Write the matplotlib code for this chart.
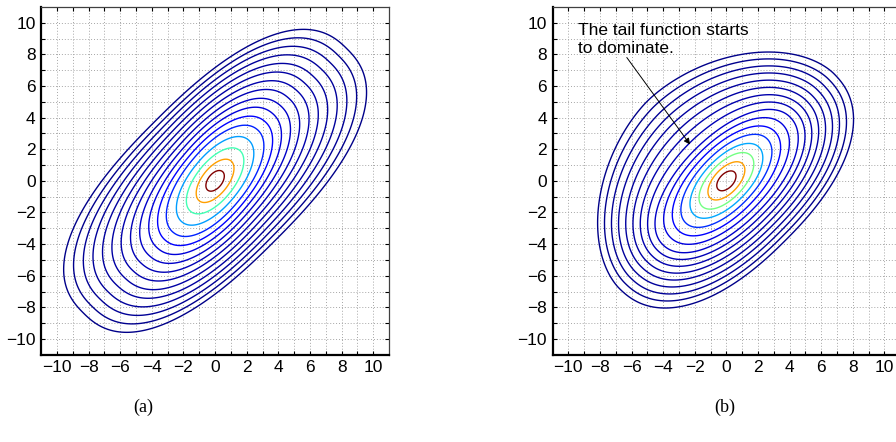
import numpy as np
import matplotlib
matplotlib.use("Agg")
import matplotlib.pyplot as plt
from matplotlib import cm

# ---------------- data ----------------
tick_values = list(range(-10, 11, 2))
grid_values = list(range(-10, 11))
contour_levels = list(range(1, 17))          # contour index, inner -> outer

# shape of the contour family vs contour index
# a: semi-axis along main diagonal; b_up/b_dn and p_up/p_dn: semi-axis and
# exponent on the upper-left / lower-right side; theta: tilt in degrees
left_R = [0, 1, 5, 10, 16]
left_a = [0.0, 0.75, 4.2, 7.7, 11.8]
left_b_up = [0.0, 0.45, 1.95, 3.5, 5.35]
left_b_dn = [0.0, 0.45, 1.95, 3.5, 5.35]
left_p_up = [2.0, 2.0, 2.1, 2.25, 2.45]
left_p_dn = [2.0, 2.0, 2.1, 2.25, 2.45]
left_theta = [52, 52, 51, 48, 45]

right_R = [0, 1, 5, 8, 16]
right_a = [0.0, 0.75, 3.7, 5.7, 9.6]
right_b_up = [0.0, 0.45, 1.75, 2.8, 7.1]
right_b_dn = [0.0, 0.45, 1.75, 2.8, 5.3]
right_p_up = [2.0, 2.0, 2.05, 2.05, 1.8]
right_p_dn = [2.0, 2.0, 2.05, 2.1, 2.3]
right_theta = [47, 47, 46, 45, 45]

# jet colour position of each contour, inner -> outer
left_cvals = [1.0, 0.74, 0.43, 0.28, 0.16, 0.11, 0.08, 0.065, 0.05, 0.04,
              0.035, 0.03, 0.025, 0.02, 0.015, 0.01]
right_cvals = [1.0, 0.74, 0.49, 0.29, 0.17, 0.12, 0.085, 0.065, 0.05, 0.04,
               0.035, 0.03, 0.025, 0.02, 0.015, 0.01]

annot_text = "The tail function starts\nto dominate."
panel_labels = ["(a)", "(b)"]

# ---------------- helpers ----------------
def interp_ext(r, knots, vals):
    knots = np.asarray(knots, float)
    vals = np.asarray(vals, float)
    out = np.interp(r, knots, vals)
    slope = (vals[-1] - vals[-2]) / (knots[-1] - knots[-2])
    beyond = r > knots[-1]
    out = np.where(beyond, vals[-1] + slope * (r - knots[-1]), out)
    return out


def field(X, Y, knots, a, b_up, b_dn, p_up, p_dn, th):
    lo = np.full(X.shape, 1e-3)
    hi = np.full(X.shape, 40.0)
    for _ in range(40):
        mid = 0.5 * (lo + hi)
        A = interp_ext(mid, knots, a)
        T = np.deg2rad(interp_ext(mid, knots, th))
        u = X * np.cos(T) + Y * np.sin(T)
        v = -X * np.sin(T) + Y * np.cos(T)
        up = v >= 0
        B = np.where(up, interp_ext(mid, knots, b_up), interp_ext(mid, knots, b_dn))
        P = np.where(up, interp_ext(mid, knots, p_up), interp_ext(mid, knots, p_dn))
        g = (np.abs(u) / A) ** P + (np.abs(v) / B) ** P
        inside = g <= 1.0
        hi = np.where(inside, mid, hi)
        lo = np.where(inside, lo, mid)
    return 0.5 * (lo + hi)


xs = np.linspace(-11, 11, 600)
X, Y = np.meshgrid(xs, xs)

plt.rcParams["font.family"] = ["Liberation Sans", "DejaVu Sans"]

fig = plt.figure(figsize=(8.96, 4.42), dpi=100)
W, H = 896.0, 442.0
ax1 = fig.add_axes([41.2 / W, 1 - 354.8 / H, 347.8 / W, 347.9 / H])
ax2 = fig.add_axes([552.5 / W, 1 - 354.8 / H, 347.8 / W, 347.9 / H])


def style(ax):
    ax.set_xlim(-11, 11)
    ax.set_ylim(-11, 11)
    ax.set_xticks(tick_values)
    ax.set_yticks(tick_values)
    ax.set_xticks(grid_values, minor=True)
    ax.set_yticks(grid_values, minor=True)
    ax.grid(True, which="both", linestyle=(0, (1, 2)), color="0.65", linewidth=0.7)
    ax.set_axisbelow(True)
    ax.tick_params(which="both", direction="in", top=True, right=True,
                   length=3, width=0.8, labelsize=12.5, pad=4)
    for s in ["left", "bottom"]:
        ax.spines[s].set_linewidth(1.6)
        ax.spines[s].set_color("black")
    for s in ["top", "right"]:
        ax.spines[s].set_linewidth(0.9)
        ax.spines[s].set_color("0.25")


R1 = field(X, Y, left_R, left_a, left_b_up, left_b_dn, left_p_up, left_p_dn, left_theta)
ax1.contour(X, Y, R1, levels=contour_levels,
            colors=[cm.jet(v) for v in left_cvals], linewidths=1.0)
style(ax1)

R2 = field(X, Y, right_R, right_a, right_b_up, right_b_dn, right_p_up, right_p_dn,
           right_theta)
ax2.contour(X, Y, R2, levels=contour_levels,
            colors=[cm.jet(v) for v in right_cvals], linewidths=1.0)
style(ax2)

ax2.text(-9.4, 10.0, annot_text, ha="left", va="top", fontsize=12.5,
         linespacing=1.3, zorder=5)
ax2.annotate("", xy=(-2.3, 2.3), xytext=(-6.3, 7.8),
             arrowprops=dict(arrowstyle="-|>", color="black", lw=0.7,
                             mutation_scale=9, shrinkA=0, shrinkB=0))

fig.text(143 / W, 1 - 407 / H, panel_labels[0], ha="center", va="center",
         fontsize=13, family=["Liberation Serif", "DejaVu Serif"])
fig.text(725 / W, 1 - 407 / H, panel_labels[1], ha="center", va="center",
         fontsize=13, family=["Liberation Serif", "DejaVu Serif"])

fig.savefig("out.png", dpi=100)
